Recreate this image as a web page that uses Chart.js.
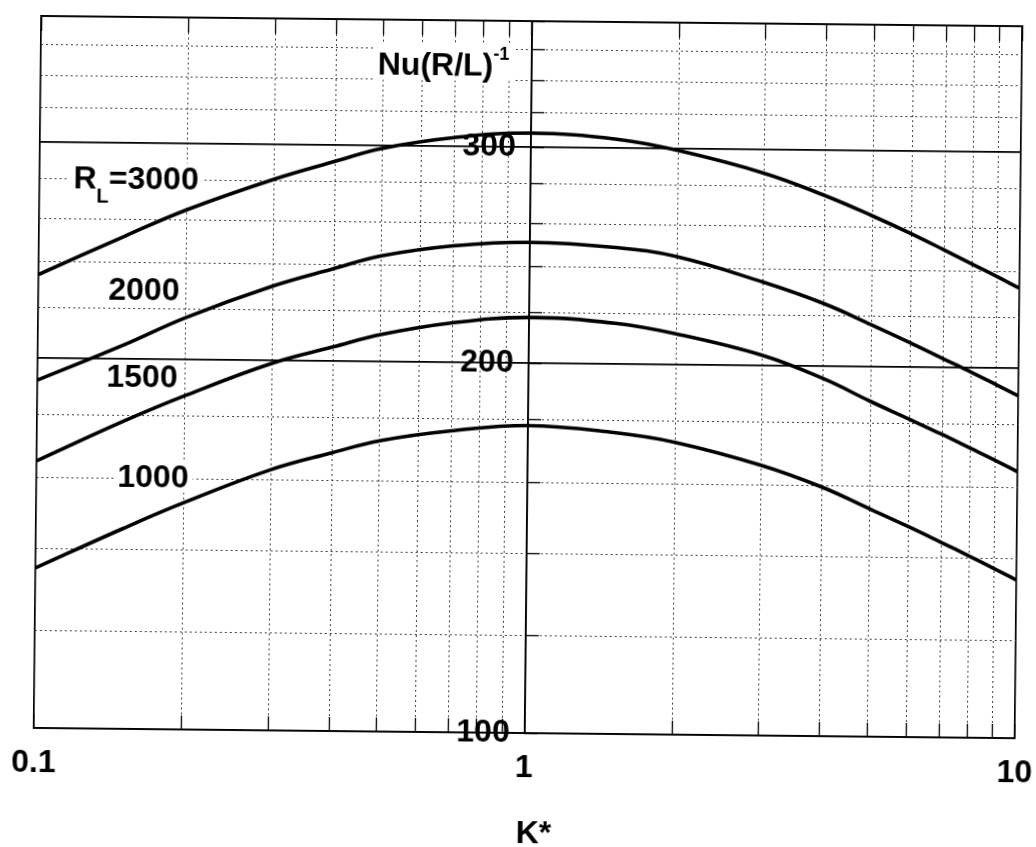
<!DOCTYPE html>
<html>
<head>
<meta charset="utf-8">
<script src="https://cdn.jsdelivr.net/npm/chart.js@4/dist/chart.umd.min.js"></script>
<style>
  html, body { margin: 0; padding: 0; background: #ffffff; overflow: hidden; }
  #wrap { width: 1036px; height: 847px; position: relative; }
  /* the scanned original sits slightly rotated on the page */
  #c { transform: rotate(0.6deg); transform-origin: 518px 423.5px; }
</style>
</head>
<body>
<div id="wrap"><canvas id="c" width="1036" height="847"></canvas></div>
<script>
// ---------------- data ----------------
const kValues = [0.1, 0.15, 0.2, 0.3, 0.4, 0.5, 0.7, 1, 1.5, 2, 3, 4, 5, 6, 7, 8, 9, 10];
const nu3000 = [234, 252, 265, 281, 291, 298.5, 305, 308, 305, 299, 287, 275.5, 265.5, 257, 249.5, 243, 237.5, 232.5];
const nu2000 = [192, 205.5, 216.5, 230, 238, 244, 249, 251, 249, 245, 234, 225, 216.5, 209.5, 203.5, 198.5, 194, 190];
const nu1500 = [165, 178, 187, 199, 205.5, 210.5, 215.5, 218, 216, 212, 204, 195.5, 187.5, 181.5, 176.5, 172.1, 168.3, 164.8];
const nu1000 = [135, 145.5, 153, 163, 168.5, 172.5, 176, 178, 176, 173, 166, 159.5, 153.3, 148.4, 144.2, 140.6, 137.4, 134.5];
const seriesNames = ['3000', '2000', '1500', '1000'];
const xTicks = [0.1, 0.2, 0.3, 0.4, 0.5, 0.6, 0.7, 0.8, 0.9, 1, 2, 3, 4, 5, 6, 7, 8, 9, 10];
const xTickLabels = ['0.1', '1', '10'];
const yTicks = [100, 120, 140, 160, 180, 200, 220, 240, 260, 280, 300, 320, 340, 360, 380];
const yTickLabels = ['100', '200', '300'];
const xTitle = 'K*';
const yTitleMain = 'Nu(R/L)';
const yTitleSup = '-1';

// ---------------- helpers ----------------
const FONT = '"Liberation Sans", Arial, Helvetica, sans-serif';
const toPoints = (arr) => kValues.map((k, i) => ({ x: k, y: arr[i] }));

function isSolid(c, labels) {
  if (!c || !c.tick) return true;
  const v = c.tick.value;
  return labels.includes(String(v)) || v === c.scale.min || v === c.scale.max;
}
function noPad(s) { s.paddingLeft = 0; s.paddingRight = 0; s.paddingTop = 0; s.paddingBottom = 0; }

const lineStyle = {
  borderColor: '#000',
  borderWidth: 3.6,
  pointRadius: 0,
  fill: false,
  tension: 0.4,
  xAxisID: 'x',
  yAxisID: 'y'
};

// text annotations (curve labels, axis titles) drawn behind the curves
const annotationPlugin = {
  id: 'annotations',
  beforeDatasetsDraw(chart) {
    const ctx = chart.ctx;
    const big = 'bold 32px ' + FONT;
    const small = 'bold 20px ' + FONT;
    const sup = 'bold 18px ' + FONT;
    const items = [
      { x: 71, y: 193, bg: true, parts: [ { t: 'R', f: big, s: 32, dy: 0 }, { t: 'L', f: small, s: 20, dy: 14 }, { t: '=' + seriesNames[0], f: big, s: 32, dy: 0 } ] },
      { x: 107, y: 304, bg: true, parts: [ { t: seriesNames[1], f: big, s: 32, dy: 0 } ] },
      { x: 106, y: 391, bg: true, parts: [ { t: seriesNames[2], f: big, s: 32, dy: 0 } ] },
      { x: 118, y: 491, bg: true, parts: [ { t: seriesNames[3], f: big, s: 32, dy: 0 } ] },
      { x: 374, y: 76, bg: true, parts: [ { t: yTitleMain, f: big, s: 32, dy: 0 }, { t: yTitleSup, f: sup, s: 18, dy: -16 } ] },
      { x: 520, y: 843, bg: false, parts: [ { t: xTitle, f: big, s: 32, dy: 0 } ] }
    ];
    ctx.save();
    ctx.textBaseline = 'alphabetic';
    ctx.textAlign = 'left';
    items.forEach(it => {
      let w = 0, top = Infinity, bottom = -Infinity;
      it.parts.forEach(p => {
        ctx.font = p.f;
        p.w = ctx.measureText(p.t).width;
        w += p.w;
        top = Math.min(top, it.y + p.dy - 0.76 * p.s);
        bottom = Math.max(bottom, it.y + p.dy + 0.1 * p.s);
      });
      if (it.bg) {
        ctx.fillStyle = '#fff';
        ctx.fillRect(it.x - 4, top - 2, w + 8, bottom - top + 4);
      }
      let x = it.x;
      ctx.fillStyle = '#000';
      it.parts.forEach(p => {
        ctx.font = p.f;
        ctx.fillText(p.t, x, it.y + p.dy);
        x += p.w;
      });
    });
    ctx.restore();
  }
};

const gridDotColor = '#404040';

new Chart(document.getElementById('c').getContext('2d'), {
  type: 'line',
  data: {
    datasets: [
      Object.assign({ label: 'RL=' + seriesNames[0], data: toPoints(nu3000) }, lineStyle),
      Object.assign({ label: seriesNames[1], data: toPoints(nu2000) }, lineStyle),
      Object.assign({ label: seriesNames[2], data: toPoints(nu1500) }, lineStyle),
      Object.assign({ label: seriesNames[3], data: toPoints(nu1000) }, lineStyle)
    ]
  },
  options: {
    responsive: false,
    animation: false,
    devicePixelRatio: 1,
    layout: { padding: { left: 37, top: 21, right: 18, bottom: 0 } },
    plugins: { legend: { display: false }, tooltip: { enabled: false } },
    scales: {
      x: {
        type: 'logarithmic',
        position: 'bottom',
        min: 0.1,
        max: 10,
        afterBuildTicks: (s) => { s.ticks = xTicks.map(v => ({ value: v })); },
        afterFit: (s) => { s.height = 114; noPad(s); },
        grid: {
          drawOnChartArea: true,
          drawTicks: true,
          tickLength: -14,
          tickColor: '#000',
          tickWidth: 1.3,
          color: (c) => isSolid(c, xTickLabels) ? '#000' : gridDotColor,
          lineWidth: (c) => isSolid(c, xTickLabels) ? 1.7 : 1
        },
        border: {
          display: true,
          color: '#000',
          width: 1.7,
          dash: (c) => isSolid(c, xTickLabels) ? [] : [2, 3]
        },
        ticks: {
          autoSkip: false,
          maxRotation: 0,
          padding: 33,
          color: '#000',
          font: { family: FONT, size: 32, weight: 'bold', lineHeight: 1 },
          callback: (v) => xTickLabels.includes(String(v)) ? String(v) : ''
        },
        title: { display: false }
      },
      x2: {
        type: 'logarithmic',
        axis: 'x',
        position: 'top',
        min: 0.1,
        max: 10,
        afterBuildTicks: (s) => { s.ticks = xTicks.map(v => ({ value: v })); },
        afterFit: (s) => { s.height = 0; noPad(s); },
        grid: {
          drawOnChartArea: false,
          drawTicks: true,
          tickLength: -15,
          tickColor: '#000',
          tickWidth: 1.3
        },
        border: { display: true, color: '#000', width: 1.7 },
        ticks: { display: false, autoSkip: false }
      },
      y: {
        type: 'logarithmic',
        position: { x: 0.934 },
        min: 100,
        max: 380,
        afterBuildTicks: (s) => { s.ticks = yTicks.map(v => ({ value: v })); },
        afterFit: (s) => { noPad(s); },
        grid: {
          drawOnChartArea: true,
          drawTicks: false,
          color: (c) => isSolid(c, yTickLabels) ? '#000' : gridDotColor,
          lineWidth: (c) => isSolid(c, yTickLabels) ? 1.7 : 1
        },
        border: {
          display: false,
          dash: (c) => isSolid(c, yTickLabels) ? [] : [2, 3]
        },
        ticks: {
          autoSkip: false,
          padding: 0,
          color: '#000',
          font: { family: FONT, size: 32, weight: 'bold', lineHeight: 1 },
          callback: (v) => yTickLabels.includes(String(v)) ? String(v) : ''
        }
      },
      y2: {
        type: 'logarithmic',
        axis: 'y',
        position: { x: 1 },
        min: 100,
        max: 380,
        afterBuildTicks: (s) => { s.ticks = yTicks.map(v => ({ value: v })); },
        afterFit: (s) => { noPad(s); },
        grid: {
          drawOnChartArea: false,
          drawTicks: true,
          tickLength: -14,
          tickColor: '#000',
          tickWidth: 1.3
        },
        border: { display: true, color: '#000', width: 1.7 },
        ticks: { display: false, autoSkip: false }
      }
    }
  },
  plugins: [annotationPlugin]
});
</script>
</body>
</html>
